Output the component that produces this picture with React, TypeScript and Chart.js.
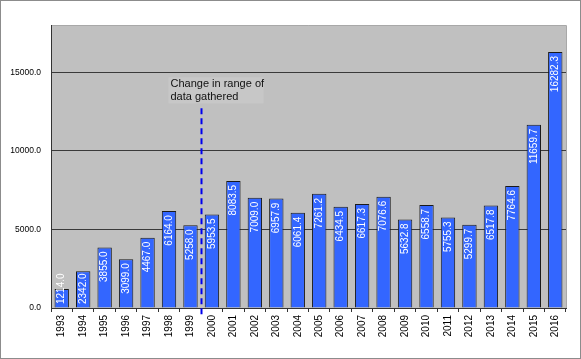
import React, { useEffect, useRef } from "react";
import { Chart, registerables } from "chart.js";

Chart.register(...registerables);

const years = ["1993","1994","1995","1996","1997","1998","1999","2000","2001","2002","2003","2004","2005","2006","2007","2008","2009","2010","2011","2012","2013","2014","2015","2016"];
const values = [1214.0,2342.0,3855.0,3099.0,4467.0,6164.0,5258.0,5953.5,8083.5,7009.0,6957.9,6061.4,7261.2,6434.5,6617.3,7076.6,5632.8,6558.7,5755.3,5299.7,6517.8,7764.6,11659.7,16282.3];
const yTicks = [0, 5000, 10000, 15000];
const annotationLines = ["Change in range of", "data gathered"];
const changeBetween = ["1999", "2000"];
const changeLineTopValue = 12700;

const FONT = "'Liberation Sans Narrow', 'Liberation Sans', Arial, sans-serif";

export default function App() {
  const ref = useRef<HTMLCanvasElement>(null);
  useEffect(() => {
    const canvas = ref.current!;
    const decor = {
      id: "decor",
      beforeDraw(chart: any) {
        const { ctx, chartArea: a } = chart;
        ctx.save();
        ctx.fillStyle = "#ffffff";
        ctx.fillRect(0, 0, chart.width, chart.height);
        ctx.strokeStyle = "#8c8c8c";
        ctx.lineWidth = 1;
        ctx.strokeRect(0.5, 0.5, chart.width - 1, chart.height - 1);
        ctx.fillStyle = "#c0c0c0";
        ctx.fillRect(a.left, a.top, a.right - a.left, a.bottom - a.top);
        ctx.strokeStyle = "#a8a8a8";
        ctx.beginPath();
        ctx.moveTo(a.left, a.top + 0.5);
        ctx.lineTo(a.right + 0.5, a.top + 0.5);
        ctx.lineTo(a.right + 0.5, a.bottom);
        ctx.stroke();
        ctx.restore();
      },
      afterDatasetsDraw(chart: any) {
        const { ctx } = chart;
        const meta = chart.getDatasetMeta(0);
        const ys = chart.scales.y;
        const xs = chart.scales.x;
        const base = ys.getPixelForValue(0);
        ctx.save();
        ctx.font = `10px ${FONT}`;
        ctx.fillStyle = "#ffffff";
        ctx.textBaseline = "middle";
        ctx.textAlign = "right";
        meta.data.forEach((bar: any, i: number) => {
          const txt = values[i].toFixed(1);
          const len = ctx.measureText(txt).width;
          let top = bar.y + 4;
          if (top + len > base - 4) top = base - 4 - len;
          ctx.save();
          ctx.translate(bar.x, top);
          ctx.rotate(-Math.PI / 2);
          ctx.fillText(txt, 0, 0);
          ctx.restore();
        });
        // dashed change line
        const i0 = years.indexOf(changeBetween[0]);
        const i1 = years.indexOf(changeBetween[1]);
        const lx = Math.round((xs.getPixelForValue(i0) + xs.getPixelForValue(i1)) / 2) + 0.5;
        const ly = ys.getPixelForValue(changeLineTopValue);
        ctx.strokeStyle = "#0000ee";
        ctx.lineWidth = 2;
        ctx.setLineDash([6, 4]);
        ctx.beginPath();
        ctx.moveTo(lx, ly);
        ctx.lineTo(lx, base + 10);
        ctx.stroke();
        ctx.setLineDash([]);
        // annotation
        ctx.fillStyle = "#c7c7c7";
        ctx.fillRect(lx - 33, ly - 31, 95, 26);
        ctx.font = `11px ${FONT.replace("'Liberation Sans Narrow', ", "")}`;
        ctx.fillStyle = "#111111";
        ctx.textAlign = "left";
        ctx.textBaseline = "middle";
        ctx.fillText(annotationLines[0], lx - 31, ly - 24);
        ctx.fillText(annotationLines[1], lx - 31, ly - 11);
        ctx.restore();
      },
    };
    const chart = new Chart(canvas, {
      type: "bar",
      data: {
        labels: years,
        datasets: [{
          data: values,
          backgroundColor: "#3366ff",
          borderColor: "#1a1a1a",
          borderWidth: 1,
          categoryPercentage: 1,
          barPercentage: 0.67,
        }],
      },
      options: {
        responsive: false,
        animation: false,
        layout: { padding: { top: 25, right: 15, left: 0, bottom: 0 } },
        plugins: { legend: { display: false }, tooltip: { enabled: false } },
        scales: {
          x: {
            grid: { offset: true, drawOnChartArea: false, drawTicks: true, tickLength: 4, color: "#333333" },
            border: { color: "#333333", width: 1 },
            ticks: { minRotation: 90, maxRotation: 90, autoSkip: false, color: "#000000", font: { family: FONT, size: 10 }, padding: 3 },
            afterFit(scale: any) { scale.height = 51; },
          },
          y: {
            min: 0,
            max: 18000,
            afterBuildTicks(scale: any) { scale.ticks = yTicks.map((v) => ({ value: v })); },
            grid: { color: "#3a3a3a", drawTicks: false, lineWidth: 1 },
            border: { color: "#333333", width: 1 },
            ticks: { color: "#000000", font: { family: FONT, size: 8.5 }, padding: 10, callback: (v: any) => Number(v).toFixed(1) },
            afterFit(scale: any) { scale.width = 51; },
          },
        },
      },
      plugins: [decor],
    });
    return () => chart.destroy();
  }, []);
  return (
    <div style={{ position: "fixed", left: 0, top: 0, width: 581, height: 359 }}>
      <canvas ref={ref} width={581} height={359} style={{ display: "block", width: 581, height: 359 }} />
    </div>
  );
}
